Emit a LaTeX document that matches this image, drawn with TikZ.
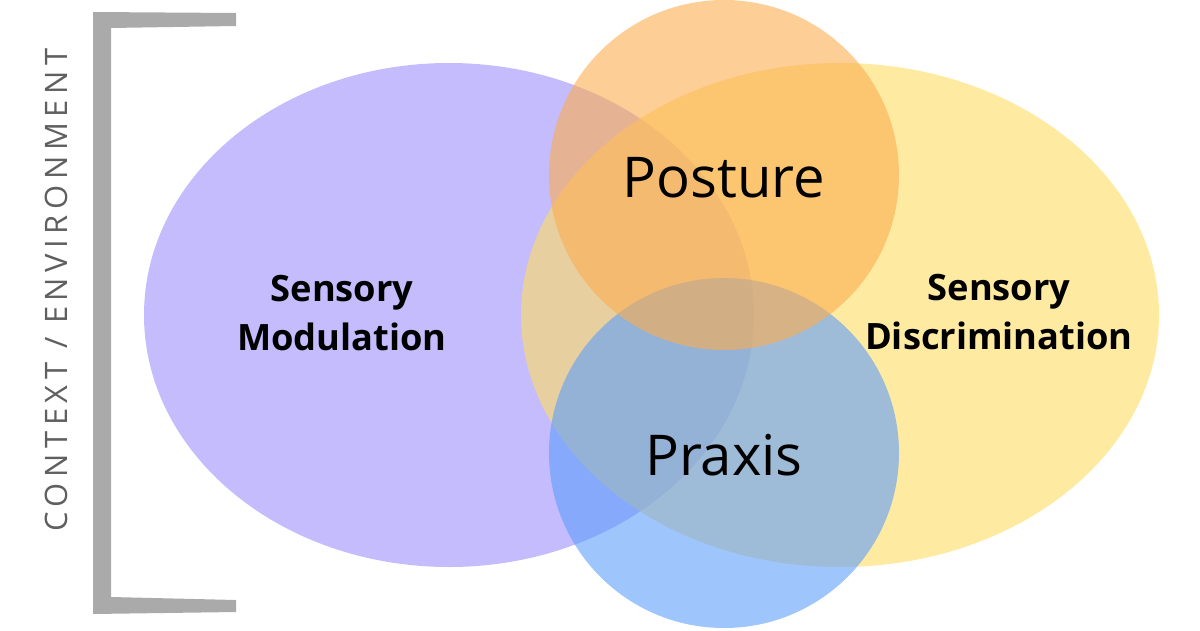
\documentclass[tikz,border=0pt]{standalone}
\usepackage{fontspec}
\setmainfont{Open Sans}
\usepackage{tikz}
\definecolor{VennViolet}{HTML}{9D8FFA}
\definecolor{VennGold}{HTML}{FFDC64}
\definecolor{VennOrange}{HTML}{FCAD50}
\definecolor{VennBlue}{HTML}{5D9EFA}
\definecolor{VennGray}{HTML}{AAAAAA}
\definecolor{VennInk}{HTML}{5F5F5F}
\tikzset{
  region/.style={draw=none, fill opacity=0.6},
  areatitle/.style={font=\fontsize{40}{48}\selectfont, inner sep=0pt},
  domaintitle/.style={font=\bfseries\fontsize{25.8}{35.5}\selectfont, align=center, inner sep=0pt},
  contexttitle/.style={font=\addfontfeatures{LetterSpace=18}\fontsize{22}{26}\selectfont,
    text=VennInk, rotate=90, inner sep=0pt}
}
\begin{document}
\begin{tikzpicture}[x=0.025cm, y=-0.025cm]
  \useasboundingbox (0,0) rectangle (1200,630);
  % context bracket
  \fill[VennGray] (93,12) -- (236,13) -- (236,26) -- (111,28) -- (111,597)
    -- (236,600) -- (236,612) -- (93,614) -- cycle;
  \node[contexttitle] (context) at (56,290) {CONTEXT / ENVIRONMENT};
  % the four areas
  \fill[region, VennViolet] (449,315) ellipse [x radius=305, y radius=252];
  \fill[region, VennGold] (840,315) ellipse [x radius=319, y radius=252];
  \fill[region, VennBlue] (724,453) circle [radius=175];
  \fill[region, VennOrange] (724,175) circle [radius=175];
  \node[domaintitle] (modulation) at (342,313) {Sensory\\Modulation};
  \node[domaintitle] (discrimination) at (999,312) {Sensory\\Discrimination};
  \node[areatitle] (posture) at (724,178) {Posture};
  \node[areatitle] (praxis) at (724,455) {Praxis};
\end{tikzpicture}
\end{document}
